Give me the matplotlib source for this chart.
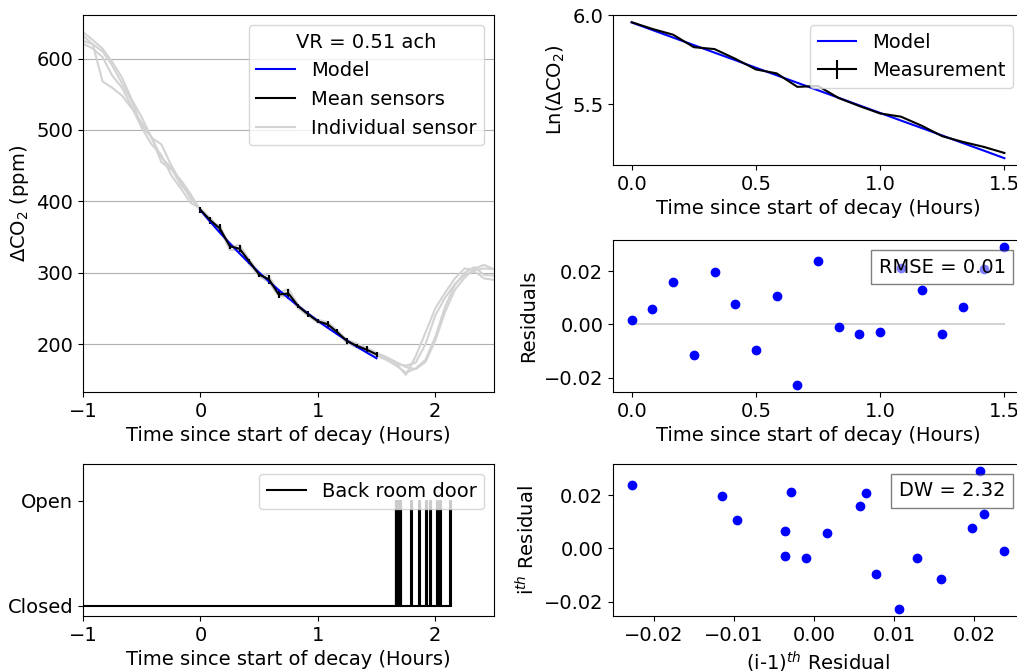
import numpy as np
import matplotlib
matplotlib.use('Agg')
import matplotlib.pyplot as plt
from matplotlib.offsetbox import AnchoredText

plt.rcParams['font.size'] = 14

# decay period, 5 minute steps (hours)
decay_t = [0, 1/12, 2/12, 3/12, 4/12, 5/12, 6/12, 7/12, 8/12, 9/12, 10/12,
           11/12, 12/12, 13/12, 14/12, 15/12, 16/12, 17/12, 18/12]
model_ppm = [387.6, 371.5, 356.0, 341.2, 327.0, 313.4, 300.3, 287.8, 275.9, 264.4,
             253.4, 242.8, 232.7, 223.0, 213.8, 204.9, 196.3, 188.2, 180.3]
mean_ppm = [388.2, 373.7, 361.8, 337.2, 333.6, 315.9, 297.4, 290.9, 269.6, 270.9,
            253.1, 241.9, 232.0, 227.9, 216.6, 204.1, 197.6, 192.2, 185.7]
mean_err = [4, 5, 6, 4, 5, 4, 3, 6, 5, 7, 3, 4, 3, 5, 4, 4, 3, 5, 4]
ln_err = [0.002, 0.003, 0.003, 0.002, 0.003, 0.002, 0.002, 0.003, 0.003, 0.004,
          0.002, 0.002, 0.002, 0.003, 0.003, 0.003, 0.002, 0.004, 0.004]
residuals = [0.0016, 0.0058, 0.0159, -0.0115, 0.0197, 0.0077, -0.0096, 0.0106, -0.0228, 0.0238,
             -0.0010, -0.0036, -0.0029, 0.0212, 0.0129, -0.0036, 0.0065, 0.0208, 0.0291]

# individual sensors, -1 h to 2.5 h every 5 minutes
sensor_t = [-1 + k / 12 for k in range(43)]
sensor1 = [637, 626, 614, 595, 573, 542, 518, 489, 480, 451, 427, 404, 389, 370, 366, 336, 339, 318, 300, 296,
           272, 277, 255, 243, 234, 231, 219, 206, 201, 195, 188, 182, 175, 168, 165, 175, 205, 245, 276, 293,
           306, 311, 305]
sensor2 = [621, 614, 602, 576, 559, 532, 503, 480, 465, 437, 418, 398, 390, 376, 358, 342, 330, 312, 295, 287,
           267, 267, 250, 240, 230, 225, 214, 202, 195, 190, 184, 178, 170, 160, 166, 178, 210, 252, 283, 300,
           308, 297, 296]
sensor3 = [632, 620, 568, 559, 548, 530, 510, 490, 455, 445, 430, 410, 387, 372, 362, 332, 332, 316, 296, 290,
           270, 268, 254, 242, 232, 228, 216, 204, 198, 192, 186, 180, 172, 170, 174, 200, 240, 265, 284, 297,
           302, 292, 290]
sensor4 = [625, 620, 610, 590, 565, 540, 505, 490, 462, 447, 423, 408, 387, 377, 361, 339, 334, 318, 299, 290,
           270, 272, 253, 242, 232, 228, 218, 204, 197, 193, 185, 181, 173, 157, 183, 216, 250, 272, 292, 306,
           304, 306, 305]

# back room door events (hours)
door_open = [1.664, 1.670, 1.676, 1.682, 1.688, 1.694, 1.700, 1.706,
             1.796, 1.864, 1.923, 1.957, 2.018, 2.043, 2.128]
door_close = [1.667, 1.673, 1.679, 1.685, 1.691, 1.697, 1.703, 1.710,
              1.799, 1.867, 1.926, 1.960, 2.021, 2.046, 2.131]

vr = 0.51
rmse_txt = 'RMSE = 0.01'
dw_txt = 'DW = 2.32'
xlab = 'Time since start of decay (Hours)'

fig = plt.figure(figsize=(10.17, 6.71), dpi=100)
ax1 = fig.add_axes([0.0816, 0.4158, 0.4041, 0.5618])
ax2 = fig.add_axes([0.0816, 0.0820, 0.4041, 0.2261])
ax3 = fig.add_axes([0.6028, 0.7541, 0.4031, 0.2235])
ax4 = fig.add_axes([0.6028, 0.4158, 0.4031, 0.2265])
ax5 = fig.add_axes([0.6028, 0.0820, 0.4031, 0.2265])

# CO2 decay
sensor_lines = []
for s in [sensor1, sensor2, sensor3, sensor4]:
    l, = ax1.plot(sensor_t, s, color='lightgray')
    sensor_lines.append(l)
eb = ax1.errorbar(decay_t, mean_ppm, yerr=mean_err, color='k')
model_line, = ax1.plot(decay_t, model_ppm, color='b')
ax1.set_xlim(-1, 2.5)
ax1.set_xticks([-1, 0, 1, 2])
ax1.grid(axis='y')
ax1.set_ylabel(r'$\Delta$CO$_2$ (ppm)')
ax1.set_xlabel(xlab)
ax1.legend([model_line, eb[0], sensor_lines[0]], ['Model', 'Mean sensors', 'Individual sensor'],
           title='VR = %.2f ach' % vr, loc='upper right')

# door
door_t = [-1.0]
door_s = [0]
for o, c in zip(door_open, door_close):
    door_t += [o, o, c, c]
    door_s += [0, 1, 1, 0]
ax2.plot(door_t, door_s, color='k', label='Back room door')
ax2.set_xlim(-1, 2.5)
ax2.set_xticks([-1, 0, 1, 2])
ax2.set_ylim(-0.1, 1.35)
ax2.set_yticks([0, 1])
ax2.set_yticklabels(['Closed', 'Open'])
ax2.set_xlabel(xlab)
ax2.legend(loc='upper right')

# log fit
ln_model = np.log(model_ppm)
ln_mean = np.log(mean_ppm)
ax3.plot(decay_t, ln_model, color='b', label='Model')
ax3.errorbar(decay_t, ln_mean, yerr=ln_err, color='k', label='Measurement')
ax3.set_yticks([5.5, 6.0])
ax3.set_xticks([0, 0.5, 1.0, 1.5])
ax3.set_ylabel(r'Ln($\Delta$CO$_2$)')
ax3.set_xlabel(xlab)
ax3.legend(loc='upper right')

# residuals
ax4.plot(decay_t, np.zeros(len(decay_t)), color='lightgray')
ax4.plot(decay_t, residuals, 'bo')
ax4.set_xticks([0, 0.5, 1.0, 1.5])
ax4.set_ylabel('Residuals')
ax4.set_xlabel(xlab)
at = AnchoredText(rmse_txt, loc='upper right', prop=dict(size=14))
at.patch.set_alpha(0.5)
ax4.add_artist(at)

# lag plot
ax5.plot(residuals[:-1], residuals[1:], 'bo')
ax5.set_xticks([-0.02, -0.01, 0.0, 0.01, 0.02])
ax5.set_ylabel(r'i$^{th}$ Residual')
ax5.set_xlabel(r'(i-1)$^{th}$ Residual')
at2 = AnchoredText(dw_txt, loc='upper right', prop=dict(size=14))
at2.patch.set_alpha(0.5)
ax5.add_artist(at2)

plt.savefig('out.png')
